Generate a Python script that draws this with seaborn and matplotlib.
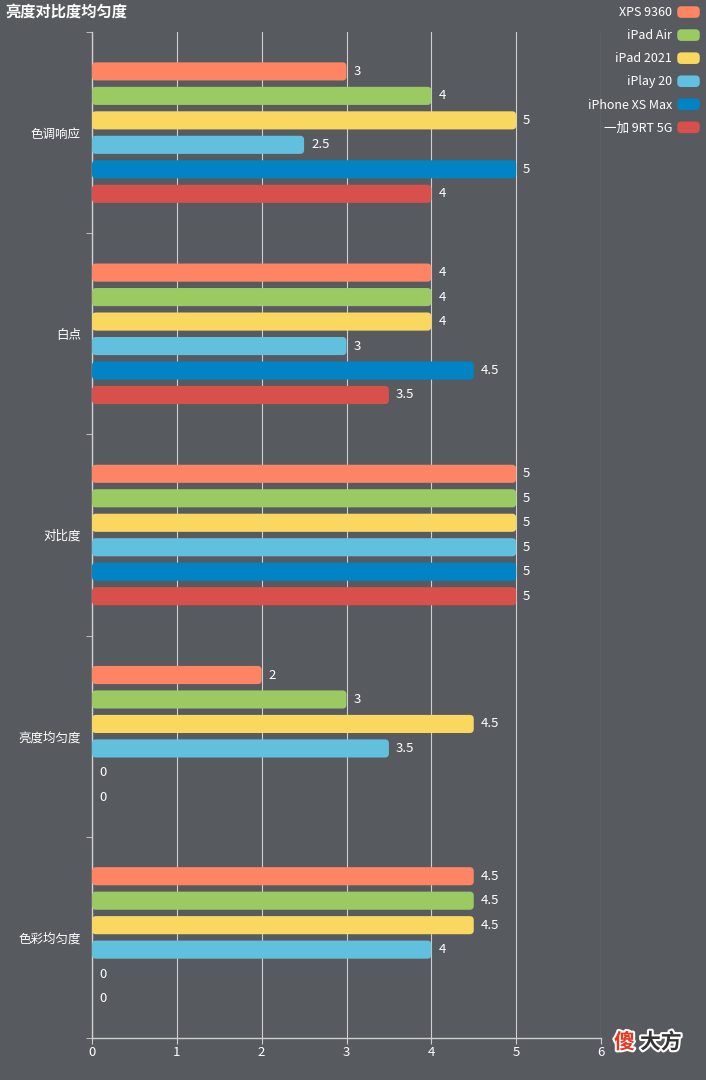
import matplotlib
matplotlib.use('Agg')
import matplotlib.pyplot as plt
import matplotlib.patheffects as pe
import numpy as np
import pandas as pd
import seaborn as sns
from matplotlib.legend_handler import HandlerPatch
from matplotlib.patches import FancyBboxPatch, Patch

# ---------------------------------------------------------------------------
#         Data
# ---------------------------------------------------------------------------
categories = ['色调响应', '白点', '对比度', '亮度均匀度', '色彩均匀度']
devices = ['XPS 9360', 'iPad Air', 'iPad 2021', 'iPlay 20', 'iPhone XS Max', '一加 9RT 5G']
xps9360 = [3, 4, 5, 2, 4.5]
ipad_air = [4, 4, 5, 3, 4.5]
ipad_2021 = [5, 4, 5, 4.5, 4.5]
iplay20 = [2.5, 3, 5, 3.5, 4]
iphone_xs_max = [5, 4.5, 5, 0, 0]
oneplus_9rt = [4, 3.5, 5, 0, 0]
colors = ['#fe8463', '#9bca63', '#fad860', '#60c0dd', '#0084c6', '#d7504b']

series = [xps9360, ipad_air, ipad_2021, iplay20, iphone_xs_max, oneplus_9rt]
df = pd.DataFrame({
    'category': np.repeat([categories], len(devices), axis=0).ravel(),
    'device': np.repeat(devices, len(categories)),
    'score': np.concatenate(series),
})

BG = '#575b5f'
LINE = '#cfcfcf'

plt.rcParams['font.family'] = ['Noto Sans CJK SC', 'DejaVu Sans']

fig = plt.figure(figsize=(7.06, 10.8), dpi=100, facecolor=BG)
ax = fig.add_axes([92 / 706, 1 - 1038 / 1080, 509 / 706, (1038 - 32) / 1080])
ax.set_facecolor(BG)

sns.barplot(data=df, y='category', x='score', hue='device', order=categories,
            hue_order=devices, palette=colors, saturation=1, orient='h',
            width=0.73, gap=0.26, errorbar=None, legend=False, ax=ax, zorder=3)

# value labels
for cont in ax.containers:
    ax.bar_label(cont, labels=[f'{v:g}' for v in cont.datavalues],
                 padding=5, color='white', fontsize=9.5)

# swap rectangles for rounded boxes
px_x = 509 / 6.0
px_y = 1006 / 5.0
r = 4.0
for p in list(ax.patches):
    x0, y0 = p.get_x(), p.get_y()
    w, h = p.get_width(), p.get_height()
    fc = p.get_facecolor()
    p.remove()
    if w <= 0:
        continue
    ax.add_patch(FancyBboxPatch(
        (x0, y0), w, h,
        boxstyle=f'round,pad=0,rounding_size={r / px_x}',
        mutation_aspect=px_x / px_y, fc=fc, ec='none', zorder=3))

ax.set_xlim(0, 6)
ax.set_ylim(4.5, -0.5)
ax.set_xticks(range(7))
ax.set_yticks(range(len(categories)))
ax.set_yticklabels(categories)
ax.set_yticks(np.arange(-0.5, 5.0, 1.0), minor=True)
ax.tick_params(axis='y', which='major', length=0, pad=8, colors='white', labelsize=9)
ax.tick_params(axis='y', which='minor', length=4, color=LINE)
ax.tick_params(axis='x', length=4, color=LINE, labelcolor='white', labelsize=9.5, pad=2)
ax.set_xlabel('')
ax.set_ylabel('')
ax.grid(axis='x', color=LINE, linewidth=0.8, zorder=0)
ax.grid(axis='y', visible=False)
for s in ['top', 'right']:
    ax.spines[s].set_visible(False)
for s in ['left', 'bottom']:
    ax.spines[s].set_color(LINE)
    ax.spines[s].set_linewidth(1)


# legend with rounded swatches
class RoundHandler(HandlerPatch):
    def create_artists(self, legend, orig_handle, xdescent, ydescent,
                       width, height, fontsize, trans):
        box = FancyBboxPatch((-xdescent, -ydescent), width, height,
                             boxstyle='round,pad=0,rounding_size=3',
                             fc=orig_handle.get_facecolor(), ec='none',
                             transform=trans)
        return [box]


handles = [Patch(fc=c, ec='none') for c in colors]
leg = fig.legend(handles, devices, loc='upper right', bbox_to_anchor=(1.0, 1.0),
                 markerfirst=False, frameon=False, fontsize=9, labelcolor='white',
                 handlelength=1.8, handleheight=1.05, handletextpad=0.4,
                 labelspacing=0.8, borderaxespad=0.1,
                 handler_map={Patch: RoundHandler()})

fig.text(5 / 706, 1 - 12 / 1080, '亮度对比度均匀度', color='white', fontsize=11,
         fontweight='bold', va='center', ha='left')

# watermark
wm = [pe.withStroke(linewidth=3, foreground='white')]
fig.text(614 / 706, 1 - 1042 / 1080, '傻', color='#e8341c', fontsize=15,
         fontweight='bold', va='center', ha='left', path_effects=wm)
fig.text(640 / 706, 1 - 1042 / 1080, '大方', color='#333333', fontsize=15,
         fontweight='bold', va='center', ha='left', path_effects=wm)

fig.savefig('out.png', dpi=100, facecolor=BG)
